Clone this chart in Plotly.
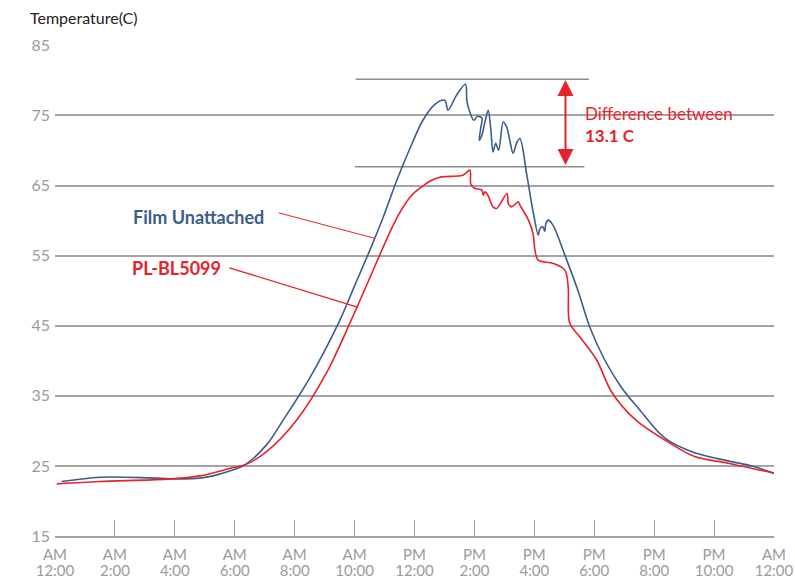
import plotly.graph_objects as go

# ---- data (hours since midnight, temperature in C) ----
film_hours = [0.22, 1.50, 3.17, 3.97, 4.84, 5.40, 5.95, 6.34, 7.06, 7.62, 8.51, 9.51, 10.01, 10.51,
              10.98, 11.41, 11.85, 12.28, 12.68, 13.01, 13.12, 13.40, 13.70, 13.75, 13.85, 13.98,
              14.11, 14.25, 14.21, 14.16, 14.25, 14.35, 14.46, 14.55, 14.62, 14.71, 14.81, 14.96,
              15.08, 15.18, 15.29, 15.42, 15.52, 15.75, 15.95, 16.13, 16.18, 16.28, 16.35, 16.38,
              16.46, 16.62, 17.02, 17.45, 17.85, 18.35, 18.92, 19.52, 20.35, 21.35, 22.46, 23.26,
              24.0]
film_temps = [22.77, 23.39, 23.29, 23.15, 23.25, 23.72, 24.44, 25.15, 28.00, 31.56, 37.60, 45.81, 50.80,
              55.78, 60.77, 65.76, 70.32, 74.31, 76.59, 77.16, 75.74, 77.87, 79.44, 77.02, 75.45,
              74.31, 74.88, 74.60, 73.17, 71.46, 72.17, 74.03, 75.74, 72.89, 69.79, 71.03, 70.04,
              74.07, 73.31, 71.46, 69.61, 71.18, 71.70, 66.47, 61.49, 57.92, 58.78, 59.13, 58.49,
              59.49, 60.06, 59.35, 55.07, 50.08, 44.81, 40.11, 36.12, 32.98, 28.99, 26.86, 25.72,
              25.0, 23.96]

pl_hours = [0.06, 1.50, 3.73, 4.84, 5.94, 6.34, 7.06, 8.07, 9.08, 10.08, 10.91, 11.21, 11.48, 11.75,
            12.01, 12.18, 12.51, 12.85, 13.61, 13.85, 13.88, 14.01, 14.25, 14.29, 14.35, 14.45,
            14.62, 14.74, 15.09, 15.13, 15.24, 15.46, 15.52, 15.82, 15.96, 16.02, 16.13, 16.63,
            17.02, 17.13, 17.18, 17.52, 18.08, 18.58, 19.38, 20.35, 21.35, 22.46, 24.0]
pl_temps = [22.44, 22.77, 23.11, 23.58, 24.76, 25.15, 27.04, 31.56, 38.40, 47.66, 55.78, 58.64, 60.92,
            62.77, 64.05, 64.62, 65.62, 66.19, 66.47, 67.19, 65.19, 64.62, 64.34, 63.62, 64.09,
            63.62, 61.96, 61.73, 63.87, 62.44, 61.96, 62.67, 62.20, 59.92, 58.07, 55.79, 54.36,
            53.89, 52.93, 50.51, 45.38, 43.39, 40.11, 35.55, 31.56, 28.71, 26.33, 25.39, 23.96]

tick_hours = [0, 2, 4, 6, 8, 10, 12, 14, 16, 18, 20, 22, 24]
tick_ampm = ["AM", "AM", "AM", "AM", "AM", "AM", "PM", "PM", "PM", "PM", "PM", "PM", "AM"]
tick_times = ["12:00", "2:00", "4:00", "6:00", "8:00", "10:00", "12:00", "2:00", "4:00",
              "6:00", "8:00", "10:00", "12:00"]
y_ticks = [15, 25, 35, 45, 55, 65, 75, 85]

film_peak = 80.15
pl_peak = 67.68

BLUE = "#3b5d8c"
RED = "#e8222b"
GRID = "#a4a4a4"
TICKTXT = "#9b9b9b"
FONT = "Lato"

fig = go.Figure()
fig.add_trace(go.Scatter(x=film_hours, y=film_temps, mode="lines", name="Film Unattached",
                         line=dict(color=BLUE, width=1.6, shape="spline", smoothing=0.9)))
fig.add_trace(go.Scatter(x=pl_hours, y=pl_temps, mode="lines", name="PL-BL5099",
                         line=dict(color=RED, width=1.6, shape="spline", smoothing=0.9)))
# empty trace so the second (time-of-day) label axis is drawn
fig.add_trace(go.Scatter(x=[], y=[], xaxis="x2", yaxis="y", mode="lines",
                         showlegend=False, hoverinfo="skip"))

shapes = [
    dict(type="line", xref="x", yref="y", x0=10.04, x1=17.82, y0=film_peak, y1=film_peak,
         line=dict(color="#8c8c8c", width=1.5), layer="below"),
    dict(type="line", xref="x", yref="y", x0=10.01, x1=17.67, y0=pl_peak, y1=pl_peak,
         line=dict(color="#8c8c8c", width=1.5), layer="below"),
    dict(type="line", xref="x", yref="y", x0=7.47, y0=61.10, x1=10.68, y1=57.46,
         line=dict(color=RED, width=1)),
    dict(type="line", xref="x", yref="y", x0=5.82, y0=53.26, x1=10.12, y1=47.62,
         line=dict(color=RED, width=1.3)),
]

annotations = [
    dict(text="Temperature(C)", xref="paper", yref="paper", x=-0.038, y=1.057,
         xanchor="left", yanchor="middle", showarrow=False,
         font=dict(family=FONT, size=16, color="#222222")),
    dict(text="<b>Film Unattached</b>", xref="x", yref="y", x=2.55, y=60.5,
         xanchor="left", yanchor="middle", showarrow=False,
         font=dict(family=FONT, size=18, color=BLUE)),
    dict(text="<b>PL-BL5099</b>", xref="x", yref="y", x=2.50, y=53.2,
         xanchor="left", yanchor="middle", showarrow=False,
         font=dict(family=FONT, size=18, color=RED)),
    dict(text="Difference between", xref="x", yref="y", x=17.62, y=75.3,
         xanchor="left", yanchor="middle", showarrow=False,
         font=dict(family=FONT, size=17, color=RED)),
    dict(text="<b>13.1 C</b>", xref="x", yref="y", x=17.62, y=72.1,
         xanchor="left", yanchor="middle", showarrow=False,
         font=dict(family=FONT, size=17, color=RED)),
    dict(text="", xref="x", yref="y", x=17.04, y=film_peak - 0.1, ax=17.04, ay=pl_peak + 0.05,
         axref="x", ayref="y", showarrow=True, arrowside="end+start", arrowhead=2,
         arrowsize=1.6, arrowwidth=2, arrowcolor=RED, standoff=0, startstandoff=0),
]

fig.update_layout(
    width=795, height=579,
    margin=dict(l=55, r=21, t=45, b=43, autoexpand=False),
    paper_bgcolor="white", plot_bgcolor="white",
    showlegend=False,
    shapes=shapes, annotations=annotations,
    font=dict(family=FONT, color=TICKTXT),
    xaxis=dict(range=[0, 24], tickvals=tick_hours, ticktext=tick_ampm, showgrid=False,
               zeroline=False, showline=True, linecolor=GRID, linewidth=1.5,
               ticks="inside", ticklen=16, tickwidth=1, tickcolor=GRID, ticklabelstandoff=4,
               tickfont=dict(family=FONT, size=15, color=TICKTXT), automargin=False),
    xaxis2=dict(range=[0, 24], tickvals=tick_hours, ticktext=tick_times, showgrid=False,
                overlaying="x", anchor="y", side="bottom",
                zeroline=False, showline=False, ticks="", ticklabelstandoff=24,
                tickfont=dict(family=FONT, size=15, color=TICKTXT), automargin=False),
    yaxis=dict(range=[15, 85.05], tickvals=y_ticks, showgrid=True, gridcolor=GRID, gridwidth=1.5,
               zeroline=False, showline=False, ticks="", ticklabelstandoff=4,
               tickfont=dict(family=FONT, size=16, color=TICKTXT), automargin=False),
)

# remove the default page margin so the figure fills the window exactly
fig.write_html("out.html", config={"displayModeBar": False},
               post_script="document.body.style.margin='0';document.body.style.overflow='hidden';")
